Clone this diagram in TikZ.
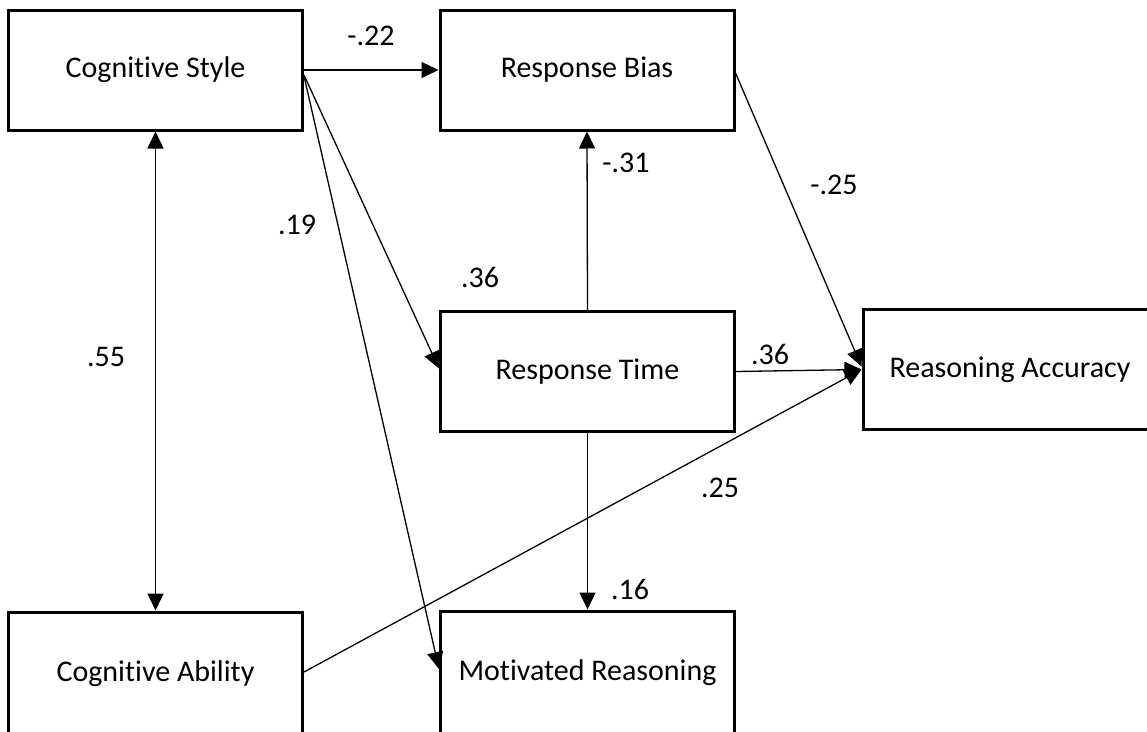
\documentclass[tikz,border=0pt]{standalone}
\usepackage{fontspec}
\setmainfont{Carlito}[Ligatures=NoCommon]
\usetikzlibrary{arrows.meta}
\begin{document}
\begin{tikzpicture}[x=1pt,y=-1pt,
  box/.style={draw, line width=3pt, minimum width=294pt, minimum height=120pt, inner sep=0pt, font=\fontsize{30}{36}\selectfont},
  lab/.style={font=\fontsize{30}{36}\selectfont, inner sep=0pt},
  arr/.style={line width=1.3pt, -{Triangle[length=17pt,width=16pt]}},
  darr/.style={line width=1.3pt, {Triangle[length=17pt,width=16pt]}-{Triangle[length=17pt,width=16pt]}},
]
\useasboundingbox (0,0) rectangle (1147,731);
\clip (0,0) rectangle (1147,731);

\node[box] (cs) at (155.5,70) {Cognitive Style};
\node[box] (rb) at (587,70) {Response Bias};
\node[box] (rt) at (587.5,371.5) {Response Time};
\node[box] (ra) at (1010,369.5) {Reasoning Accuracy};
\node[box, minimum height=124pt] (ca) at (155.5,674) {Cognitive Ability};
\node[box, minimum height=124pt] (mr) at (587.5,673) {Motivated Reasoning};

\draw[arr] (cs.east) -- (rb.west);
\draw[darr] (cs.south) -- (ca.north);
\draw[arr] ([yshift=-5pt]cs.east) -- ([yshift=3pt]rt.west);
\draw[arr] ([yshift=-6pt]cs.east) -- ([yshift=4pt]mr.west);
\draw[arr] (rt.north) -- (rb.south);
\draw[arr] (rt.south) -- (mr.north);
\draw[arr] ([yshift=-3pt]rb.east) -- ([yshift=3pt]ra.west);
\draw[arr] (rt.east) -- (ra.west);
\draw[arr] ([yshift=2pt]ca.east) -- (ra.west);

\node[lab] (l1) at (371,36) {-.22};
\node[lab] (l2) at (106,357) {.55};
\node[lab] (l3) at (297,225) {.19};
\node[lab] (l4) at (480,277) {.36};
\node[lab] (l5) at (626,163) {-.31};
\node[lab] (l6) at (834,185) {-.25};
\node[lab] (l7) at (770,354) {.36};
\node[lab] (l8) at (720,488) {.25};
\node[lab] (l9) at (630,589) {.16};
\end{tikzpicture}
\end{document}
